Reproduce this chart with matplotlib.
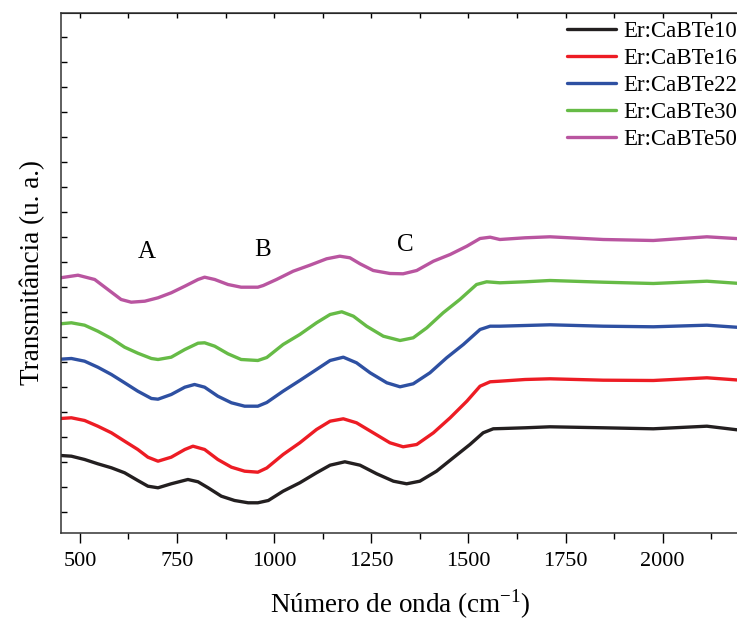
import matplotlib
matplotlib.use("Agg")
import matplotlib.pyplot as plt
from matplotlib.ticker import MultipleLocator

plt.rcParams['font.family'] = ['Liberation Serif', 'DejaVu Serif']
plt.rcParams['mathtext.fontset'] = 'custom'
plt.rcParams['mathtext.rm'] = 'Liberation Serif'

# FTIR spectra, vertically offset (arbitrary units)
wn_te10 = [450, 478, 512, 546, 581, 615, 649, 675, 701, 735, 778, 804, 830, 864, 898,
           933, 958, 985, 1023, 1066, 1109, 1144, 1182, 1221, 1264, 1307, 1341, 1375,
           1418, 1461, 1504, 1538, 1564, 1590, 1646, 1710, 1847, 1976, 2114, 2200]
t_te10 = [0.780, 0.773, 0.740, 0.697, 0.657, 0.607, 0.530, 0.473, 0.457, 0.497, 0.540,
          0.517, 0.457, 0.373, 0.330, 0.307, 0.307, 0.330, 0.423, 0.507, 0.607, 0.683,
          0.717, 0.683, 0.597, 0.523, 0.497, 0.523, 0.623, 0.757, 0.890, 1.007, 1.047,
          1.050, 1.057, 1.067, 1.057, 1.047, 1.073, 1.033]

wn_te16 = [450, 478, 512, 546, 581, 615, 649, 675, 701, 735, 770, 791, 821, 855, 890,
           924, 958, 981, 1023, 1066, 1109, 1144, 1178, 1212, 1255, 1298, 1332, 1367,
           1410, 1453, 1496, 1530, 1556, 1581, 1646, 1710, 1847, 1976, 2114, 2200]
t_te16 = [1.150, 1.157, 1.130, 1.073, 1.007, 0.923, 0.840, 0.763, 0.723, 0.763, 0.840,
          0.873, 0.840, 0.740, 0.663, 0.623, 0.613, 0.655, 0.790, 0.907, 1.040, 1.123,
          1.147, 1.107, 1.007, 0.907, 0.867, 0.890, 1.007, 1.157, 1.323, 1.473, 1.517,
          1.523, 1.540, 1.547, 1.533, 1.530, 1.557, 1.533]

wn_te22 = [450, 478, 512, 546, 581, 615, 649, 684, 701, 735, 770, 795, 821, 855, 890,
           924, 958, 981, 1023, 1066, 1109, 1144, 1178, 1212, 1247, 1290, 1324, 1358,
           1401, 1444, 1487, 1530, 1556, 1581, 1646, 1710, 1847, 1976, 2114, 2200]
t_te22 = [1.743, 1.750, 1.723, 1.663, 1.590, 1.507, 1.423, 1.350, 1.343, 1.390, 1.463,
          1.490, 1.463, 1.373, 1.307, 1.273, 1.273, 1.310, 1.423, 1.530, 1.640, 1.730,
          1.763, 1.707, 1.607, 1.507, 1.467, 1.497, 1.607, 1.757, 1.890, 2.040, 2.073,
          2.073, 2.080, 2.087, 2.073, 2.067, 2.083, 2.060]

wn_te30 = [450, 478, 512, 546, 581, 615, 649, 684, 701, 735, 770, 804, 821, 847, 881,
           915, 958, 981, 1023, 1066, 1109, 1144, 1174, 1204, 1238, 1281, 1324, 1358,
           1393, 1435, 1478, 1521, 1547, 1581, 1646, 1710, 1847, 1976, 2114, 2200]
t_te30 = [2.097, 2.107, 2.083, 2.023, 1.950, 1.863, 1.803, 1.750, 1.740, 1.763, 1.840,
          1.903, 1.907, 1.873, 1.797, 1.740, 1.730, 1.760, 1.890, 1.990, 2.107, 2.190,
          2.217, 2.173, 2.073, 1.973, 1.930, 1.957, 2.057, 2.207, 2.340, 2.490, 2.517,
          2.507, 2.517, 2.530, 2.513, 2.500, 2.523, 2.500]

wn_te50 = [450, 495, 538, 572, 606, 632, 667, 701, 735, 770, 804, 821, 847, 881, 915,
           958, 972, 1006, 1049, 1092, 1135, 1169, 1195, 1221, 1255, 1298, 1332, 1367,
           1410, 1453, 1496, 1530, 1556, 1581, 1646, 1710, 1847, 1976, 2114, 2200]
t_te50 = [2.557, 2.583, 2.540, 2.440, 2.340, 2.313, 2.323, 2.357, 2.407, 2.473, 2.540,
          2.563, 2.540, 2.490, 2.463, 2.463, 2.480, 2.540, 2.623, 2.683, 2.747, 2.773,
          2.757, 2.697, 2.630, 2.600, 2.597, 2.630, 2.723, 2.790, 2.873, 2.950, 2.963,
          2.940, 2.957, 2.967, 2.940, 2.930, 2.967, 2.947]

series = [
    ('Er:CaBTe10', wn_te10, t_te10, '#231f20'),
    ('Er:CaBTe16', wn_te16, t_te16, '#ed1c24'),
    ('Er:CaBTe22', wn_te22, t_te22, '#2e50a2'),
    ('Er:CaBTe30', wn_te30, t_te30, '#66bb46'),
    ('Er:CaBTe50', wn_te50, t_te50, '#b955a0'),
]

# band labels
band_names = ['A', 'B', 'C']
band_wn = [672, 971, 1337]
band_t = [2.81, 2.835, 2.885]

fig = plt.figure(figsize=(7.37, 6.22), dpi=100)
ax = fig.add_axes([0.0821, 0.1423, 0.9224, 0.8376])

for name, x, y, c in series:
    ax.plot(x, y, color=c, lw=2.4, label=name, solid_capstyle='round',
            solid_joinstyle='round')

for name, x, y in zip(band_names, band_wn, band_t):
    ax.text(x, y, name, fontsize=18, ha='center', va='center')

ax.set_xlim(450, 2200)
ax.set_ylim(0, 5.21)

ax.xaxis.set_major_locator(MultipleLocator(250))
ax.xaxis.set_minor_locator(MultipleLocator(125))
ax.tick_params(axis='x', which='major', direction='out', length=7, width=1.0,
               labelsize=16, pad=6, top=False)
ax.tick_params(axis='x', which='minor', direction='out', length=4, width=1.0, top=False)

ax.yaxis.set_major_locator(MultipleLocator(0.25, offset=0.215))
ax.tick_params(axis='y', which='major', direction='in', length=4, width=1.0,
               labelleft=False, right=False)
ax.tick_params(axis='y', which='minor', left=False)

top = ax.secondary_xaxis('top')
top.xaxis.set_major_locator(MultipleLocator(125))
top.tick_params(axis='x', direction='in', length=3.5, width=1.0, labeltop=False)

for s in ax.spines.values():
    s.set_linewidth(1.1)
    s.set_color('#333333')

ax.set_xlabel(r'Número de onda (cm$^{\mathrm{-1}}$)', fontsize=19.5, labelpad=12)
ax.set_ylabel('Transmitância (u. a.)', fontsize=19.5, labelpad=11)

ax.legend(loc='upper right', bbox_to_anchor=(1.0, 0.966), bbox_transform=fig.transFigure,
          frameon=False, fontsize=16.5, handlelength=2.15, handletextpad=0.3,
          labelspacing=0.26, borderpad=0, borderaxespad=0)

fig.savefig('out.png', dpi=100)
